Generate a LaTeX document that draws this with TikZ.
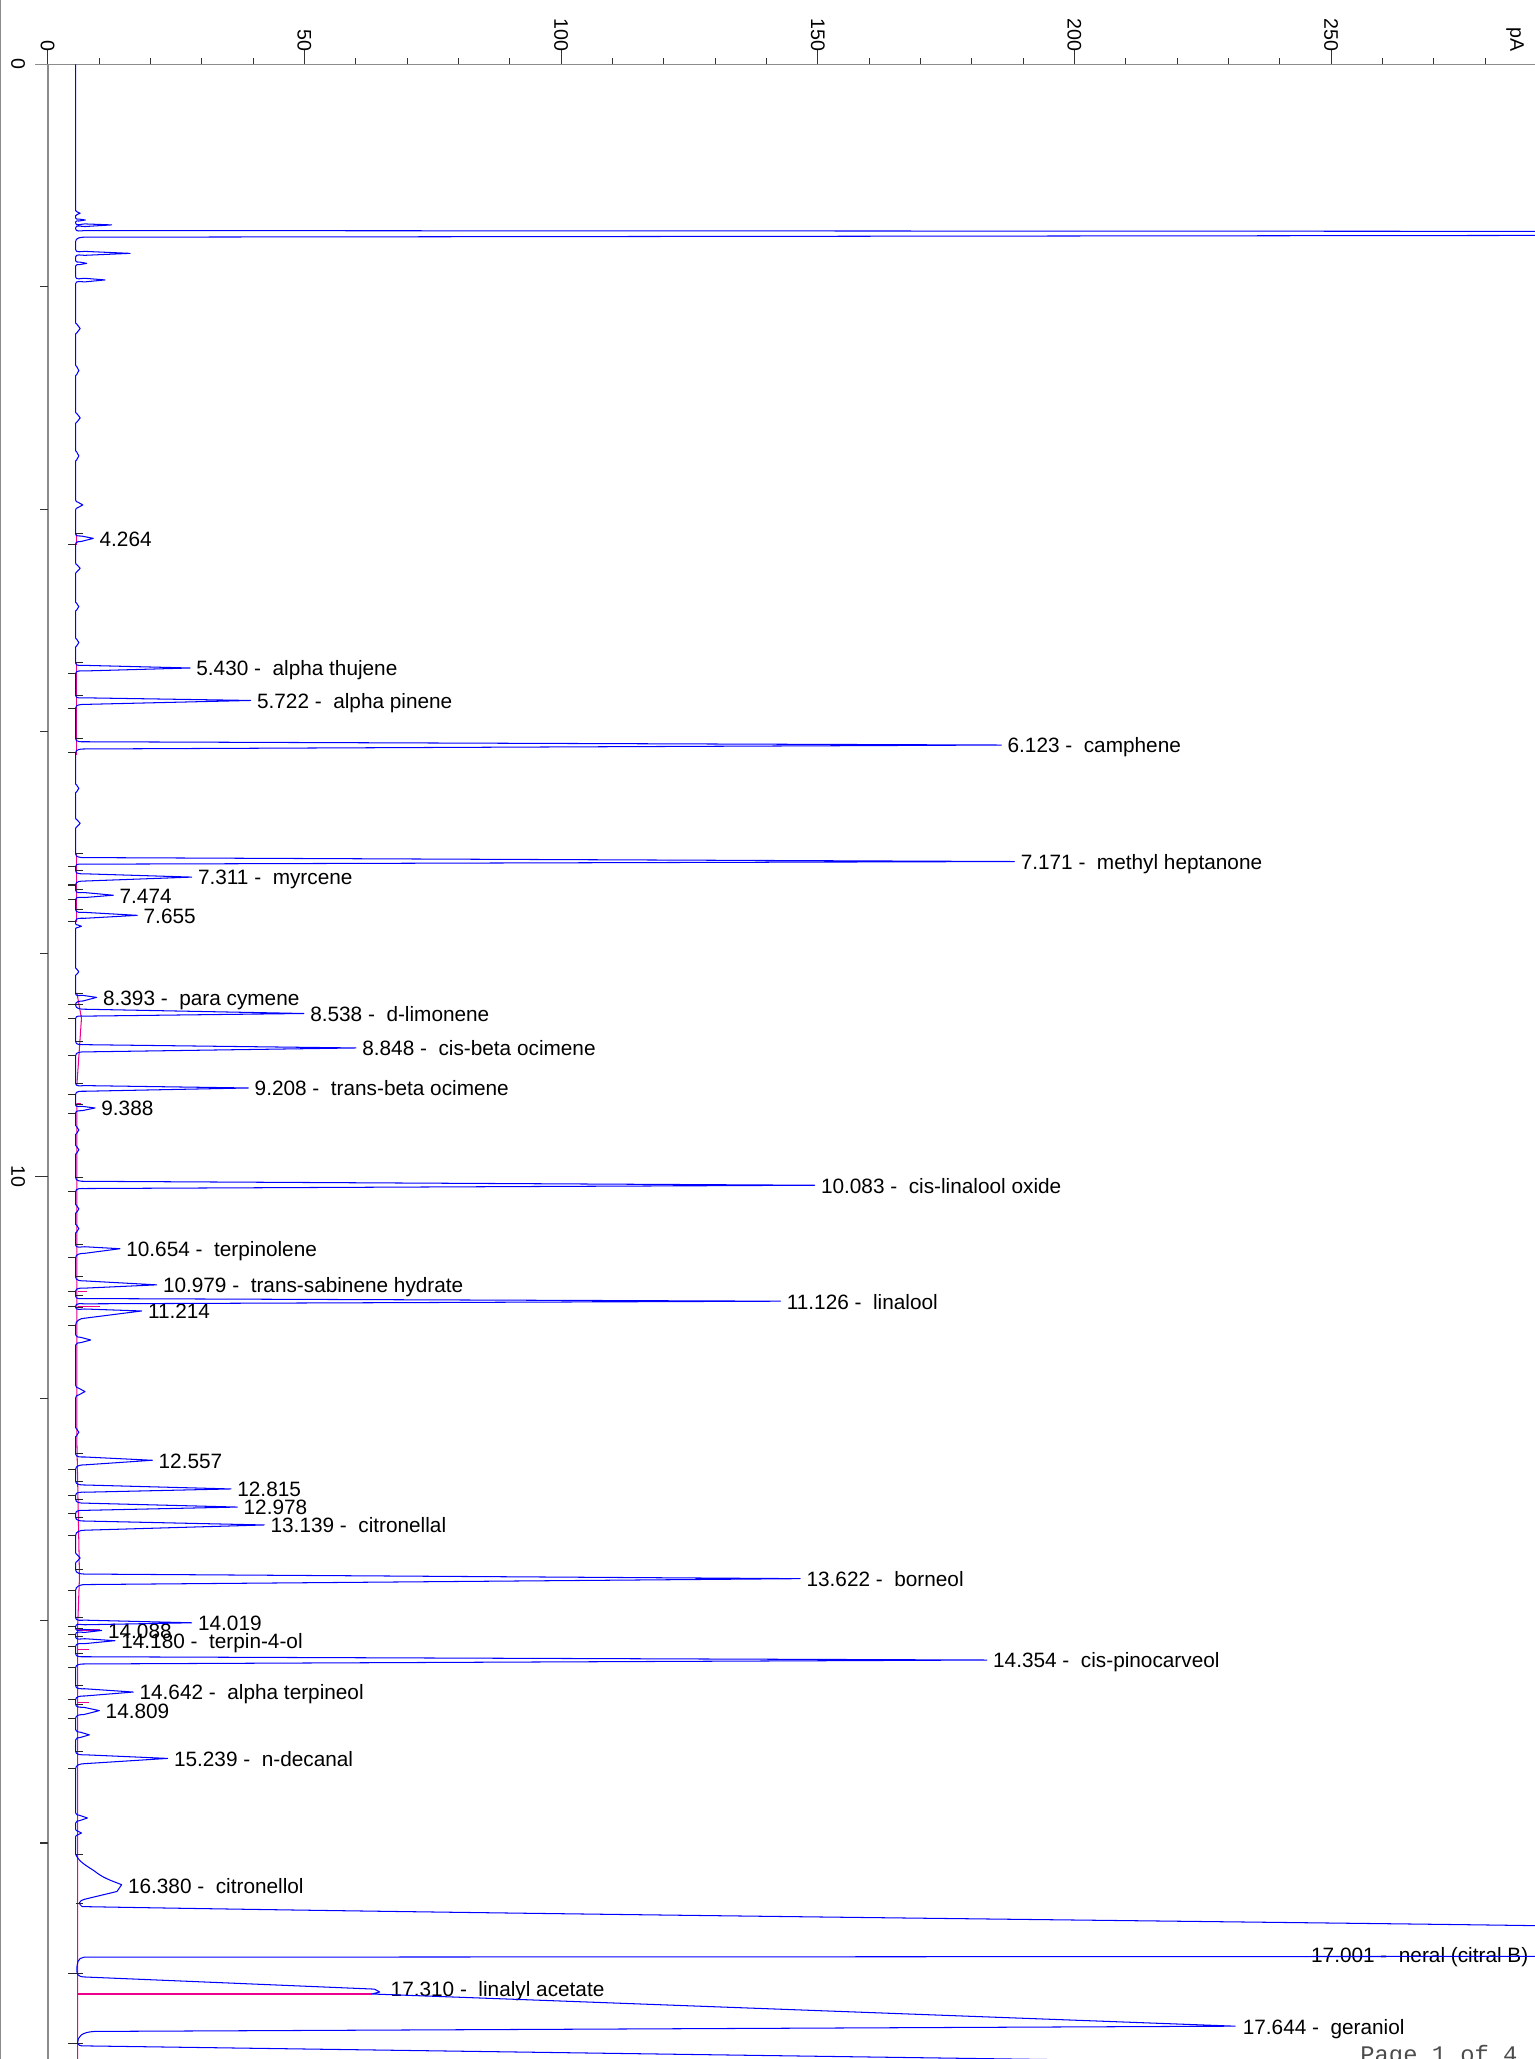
\documentclass[tikz,border=0pt]{standalone}
\usepackage{fontspec}
\setmainfont{Liberation Sans}
\newfontfamily\monofont{Liberation Mono}
\usepackage{tikz}
\usetikzlibrary{positioning}

% time/height/rise/tail/name  (x = no label, - = time only)
\def\peaklist{%
1.339/61/2/2/x,
1.400/65/1.5/1.5/x,
1.444/85/1.5/2.5/x,
1.513/3000/3/7/x,
1.700/99/3/3/x,
1.790/66/2/2/x,
1.939/80/2.5/3/x,
2.376/61/6/6/x,
2.754/60/6/6/x,
3.180/61/6/6/x,
3.522/60/6/6/x,
3.963/63/4/4/x,
4.264/71/3.5/4.5/-,
4.533/61/5/5/x,
4.878/60/5/5/x,
5.201/60/5/5/x,
5.430/144.6/4/4.5/alpha thujene,
5.722/190.8/4/6/alpha pinene,
6.123/762/5/6/camphene,
6.513/60/5/5/x,
6.827/61/5/5/x,
7.171/772/6/4/methyl heptanone,
7.311/145.9/5/6/myrcene,
7.474/86.2/4/3.5/-,
7.655/104.5/4.5/4.5/-,
7.753/62/2/2/x,
8.162/60/4/4/x,
8.393/73.6/3/5.5/para cymene,
8.538/231.3/6.5/4/d-limonene,
8.848/270.9/5/6/cis-beta ocimene,
9.208/189/3.6/5/trans-beta ocimene,
9.388/72.3/2.5/4/-,
9.586/60/5/5/x,
9.764/60/5/5/x,
10.083/620/6/5/cis-linalool oxide,
10.296/60/5/5/x,
10.473/60/5/5/x,
10.654/91.3/3/7/terpinolene,
10.979/119.2/6/5/trans-sabinene hydrate,
11.126/594/4/4/linalool,
11.214/107.8/3/11/-,
11.475/69/4/4/x,
11.939/64.7/5/5/x,
12.305/60/5/5/x,
12.557/115.9/5/7/-,
12.815/175.8/6/5/-,
12.978/180.6/6/5/-,
13.139/201.1/6/8/citronellal,
13.436/61/5/5/x,
13.622/609/7/9/borneol,
14.019/145.9/4/3/-,
14.088/77.4/1.5/3/-,
14.180/87.5/3/4.5/terpin-4-ol,
14.354/751/5/6/cis-pinocarveol,
14.642/101.4/5/6/alpha terpineol,
14.809/75.6/5/6/-,
15.027/68/4/4/x,
15.239/127.6/5.5/8/n-decanal,
15.775/66.5/4/4/x,
15.910/62/3/3/x}
\def\nolbl{x}
\def\onlytime{-}

\begin{document}
\begin{tikzpicture}[
    x=0.02cm, y=-0.02cm,
    trace/.style={draw=blue, line width=0.45pt, line join=round},
    axisline/.style={draw=black!45, line width=0.7pt},
    axistick/.style={draw=black!80, line width=0.45pt},
    intmark/.style={draw=black!85, line width=0.45pt},
    basefit/.style={draw=magenta, line width=0.45pt},
    lbl/.style={anchor=base west, inner sep=0pt, font=\fontsize{9}{10}\selectfont},
    ticklbl/.style={rotate=-90, inner sep=0pt, font=\fontsize{8.5}{10}\selectfont}
  ]

\useasboundingbox (0,0) rectangle (1168,1567);

% Axes
\draw[axisline] (0.4,0) -- (0.4,1567);
\draw[axisline] (27,49) -- (1168,49);
\draw[axisline] (36.5,49) -- (36.5,1567);
\foreach \v [evaluate=\v as \tl using {ifthenelse(mod(\v,50)==0,11,4.6)}] in {0,10,...,280}
  \draw[axistick] ({36.3+3.907*\v},49) -- ++(0,-\tl);
\foreach \v in {0,50,...,250}
  \node[ticklbl, anchor=east] (tx\v) at ({36.3+3.907*\v},39.5) {\v};
\node[ticklbl, anchor=east] (unit) at (1153,39.5) {pA};
\foreach \k/\len in {1/6,2/6,3/6,4/6,5/9.5,6/6,7/6,8/6}
  \draw[axistick] (36.5,{49+169.2*\k}) -- ++(-\len,0);
\node[ticklbl, anchor=north] (ty0) at (19.5,49) {0};
\node[ticklbl, anchor=north] (ty10) at (19.5,895) {10};

% Baseline fit
\draw[basefit] (58.5,406.6) -- (58.5,414.8);
\draw[basefit] (58.5,504.5) -- (58.5,574.5);
\draw[basefit] (58.5,649.5) -- (58.5,701.5);
\draw[basefit] (58.5,755.5) -- (62,775) -- (58.5,826);
\draw[basefit] (58.5,839.6) -- (58.5,1096) -- (60.5,1200) -- (59,1240) -- (59,1567);
\draw[basefit] (58.5,839.6) -- (62,839.6);
\draw[basefit] (59,983) -- (66,983);
\draw[basefit] (59,994.6) -- (76,994.6);
\draw[basefit] (59,1240.5) -- (76,1240.5);
\draw[basefit] (59,1255) -- (68,1255);
\draw[basefit] (59,1295.6) -- (68,1295.6);
\draw[basefit] (59,1517.5) -- (283,1517.5);

% Peak labels
\foreach \rt/\hx/\wa/\wb/\cmp [count=\i, evaluate=\rt as \yy using {49+84.6*\rt}] in \peaklist {
  \edef\tmpname{\cmp}
  \ifx\tmpname\nolbl\else
    \draw[intmark] (57.5,{\yy-\wa}) -- ++(5.5,0);
    \draw[intmark] (57.5,{\yy+\wb}) -- ++(-5.5,0);
    \ifx\tmpname\onlytime
      \node[lbl] (pk\i) at ({\hx+4.5},{\yy+6}) {\rt};
    \else
      \node[lbl] (pk\i) at ({\hx+4.5},{\yy+6}) {\rt\ -\ \ \cmp};
    \fi
  \fi
}
\node[lbl] (citronellol) at (97.1,1440.7) {16.380\ -\ \ citronellol};
\node[lbl] (neral) at (997.5,1493.3) {17.001\ -\ \ neral (citral B)};
\node[lbl] (linacet) at (297,1519.5) {17.310\ -\ \ linalyl acetate};
\node[lbl] (geraniol) at (945.5,1548) {17.644\ -\ \ geraniol};
\draw[intmark] (57.5,1411) -- ++(5.5,0);
\draw[intmark] (57.5,1449) -- ++(5.5,0);
\draw[intmark] (52,1501.6) -- ++(11,0);
\draw[intmark] (52,1555.5) -- ++(11,0);
\node[anchor=base west, inner sep=0pt, font=\monofont\fontsize{10.3}{12}\selectfont, text=black!70] (pagenum) at (1035,1569.5) {Page 1 of 4};

% Trace
\begin{scope}
\clip (0,0) rectangle (1168,1567);
\draw[trace] (57.5,49)
  \foreach \rt/\hx/\wa/\wb/\cmp [evaluate=\rt as \yy using {49+84.6*\rt}, evaluate=\hx as \mx using {57.5+min(7,0.35*(\hx-57.5))}] in \peaklist {
    -- (57.5,{\yy-\wa}) to[out=-90,in=180] ({\mx},{\yy-0.5*\wa}) -- ({\hx},{\yy})
    -- ({\mx},{\yy+0.5*\wb}) to[out=180,in=90] (57.5,{\yy+\wb})
  }
  -- (57.5,1411) .. controls (60,1417) and (66,1420) .. (72,1424)
  .. controls (78,1429) and (84,1431) .. (92.6,1434.3) -- (89,1439.5) -- (64,1445.5)
  .. controls (60,1446.5) and (59.5,1449) .. (62.5,1451)
  .. controls (400,1457) and (1000,1463) .. (1168,1465.5) -- (2800,1488) -- (64,1489.5)
  .. controls (59,1490) and (58.5,1494) .. (58.5,1500)
  .. controls (58.5,1503) and (60,1504) .. (63,1504.5) -- (285,1513.8) -- (289,1516) -- (283,1517.5)
  -- (940,1542) -- (72,1546) .. controls (62,1546.5) and (59,1550) .. (59,1555)
  .. controls (59,1556.5) and (61,1557) .. (64,1557) -- (1300,1574.5);
\end{scope}

\end{tikzpicture}
\end{document}
